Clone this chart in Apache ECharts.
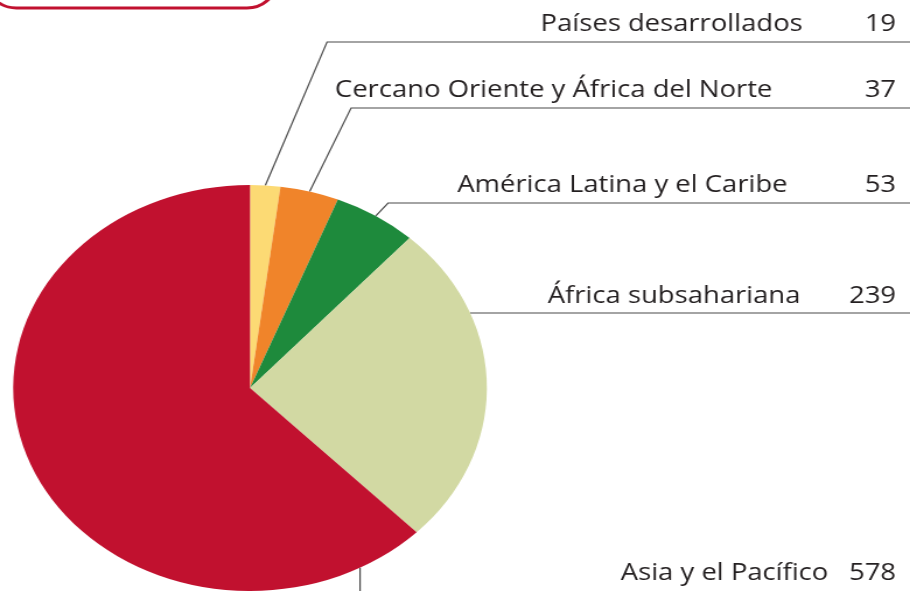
<!DOCTYPE html>
<html>
<head>
<meta charset="utf-8">
<script src="https://cdn.jsdelivr.net/npm/echarts@6/dist/echarts.min.js"></script>
<style>
  html, body { margin: 0; padding: 0; width: 910px; height: 591px; overflow: hidden; background: #fff; }
  /* the original figure is stretched sideways (pie and text alike) */
  #chart { position: absolute; left: 0; top: 0; width: 780px; height: 591px;
           transform: scaleX(1.1667); transform-origin: 0 0; }
</style>
</head>
<body>
<div id="chart"></div>
<script>
const regions = ['Países desarrollados', 'Cercano Oriente y África del Norte', 'América Latina y el Caribe', 'África subsahariana', 'Asia y el Pacífico'];
const values = [19, 37, 53, 239, 578];
const colors = ['#FCDA74', '#F0842A', '#1E8A3C', '#D2D9A3', '#C1112F'];

// layout in chart pixels (before the sideways stretch)
const W = 780, CX = 214.3, CY = 388, R = 203;
const lineY = [42, 108, 203, 313, 0];
const bendX = [280.3, 300.9, 332.6, 0, 308.6];
const valueW = [80, 106, 93, 82, 58];
const textY = [24, 90, 185, 296, 573];

const FONT = '"Open Sans", "DejaVu Sans", sans-serif';
const rich = { n: { fontFamily: FONT, fontSize: 23.5, color: '#231F20' } };
valueW.forEach((w, i) => {
  rich['v' + i] = { fontFamily: FONT, fontSize: 23.5, color: '#231F20', width: w, align: 'right' };
});

const chart = echarts.init(document.getElementById('chart'));
chart.setOption({
  animation: false,
  graphic: [{
    type: 'rect',
    shape: { x: -10, y: -60, width: 245.7, height: 68, r: 24 },
    style: { fill: 'none', stroke: '#C1112F', lineWidth: 3 }
  }],
  series: [{
    type: 'pie',
    center: [CX, CY],
    radius: R,
    startAngle: 90,
    silent: true,
    avoidLabelOverlap: false,
    itemStyle: { borderWidth: 0 },
    label: {
      show: true,
      formatter: p => '{n|' + p.name + '}{v' + p.dataIndex + '|' + p.value + '}',
      rich: rich
    },
    labelLine: {
      show: true,
      length: 10,
      length2: 10,
      lineStyle: { color: '#4a4a4a', width: 1.2 }
    },
    labelLayout: function (p) {
      const i = p.dataIndex;
      const a = p.labelLinePoints[0];
      let pts;
      if (i < 3) {
        pts = [[a[0], a[1]], [bendX[i], lineY[i]], [W, lineY[i]]];
      } else if (i === 3) {
        const dy = lineY[i] - CY;
        const ex = CX + Math.sqrt(R * R - dy * dy);
        pts = [[ex, lineY[i]], [ex + 1, lineY[i]], [W, lineY[i]]];
      } else {
        const dx = bendX[i] - CX;
        const ey = CY + Math.sqrt(R * R - dx * dx);
        pts = [[bendX[i], ey], [bendX[i], ey + 1], [bendX[i], 600]];
      }
      return { x: 768, y: textY[i], align: 'right', verticalAlign: 'middle', labelLinePoints: pts };
    },
    data: regions.map((name, i) => ({
      name: name,
      value: values[i],
      itemStyle: { color: colors[i] }
    }))
  }]
});
</script>
</body>
</html>
